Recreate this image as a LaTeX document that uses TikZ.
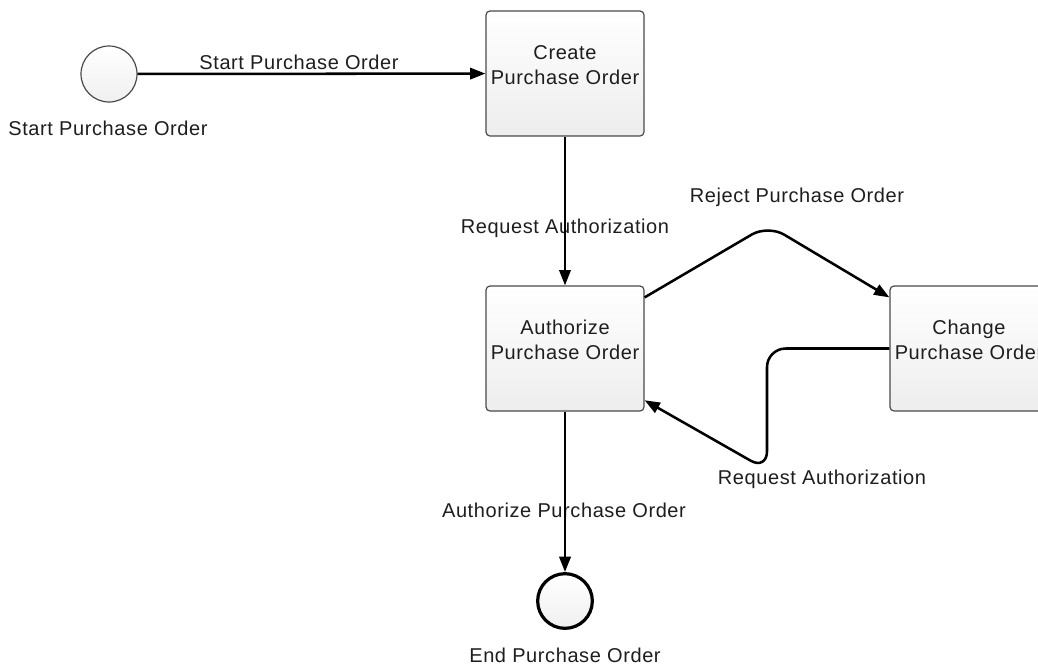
\documentclass[tikz,border=0pt]{standalone}
\usepackage{fontspec}
\setmainfont{Liberation Sans}[LetterSpace=3]
\usetikzlibrary{arrows.meta}
\definecolor{edgegray}{HTML}{4A4A4A}
\definecolor{inktext}{HTML}{1E1E1E}
\tikzset{
  task/.style={draw=edgegray, line width=0.9pt, rounded corners=3pt,
    top color=white, bottom color=black!7,
    minimum width=118.5pt, minimum height=93.75pt, inner sep=0pt},
  tasktext/.style={align=center, text=inktext, inner sep=0pt,
    font=\fontsize{15pt}{18.6pt}\selectfont},
  startev/.style={circle, draw=edgegray, line width=0.9pt,
    top color=white, bottom color=black!6, minimum size=42pt, inner sep=0pt},
  endev/.style={circle, draw=black, line width=2.4pt,
    top color=white, bottom color=black!6, minimum size=41pt, inner sep=0pt},
  lbl/.style={text=inktext, inner sep=0pt, font=\fontsize{15pt}{17pt}\selectfont},
  flow/.style={draw=black, line width=1.9pt,
    -{Triangle[length=11.5pt, width=8.5pt]}, rounded corners=14pt}
}
\begin{document}
\begin{tikzpicture}[x=0.75pt, y=-0.75pt]
  \clip (0,0) rectangle (1038,665);
  \fill[white] (0,0) rectangle (1038,665);

  % events and tasks
  \node[startev] (start) at (109,74) {};
  \node[task] (create) at (565,73.5) {};
  \node[task] (auth) at (565,348.5) {};
  \node[task] (change) at (969,348.5) {};
  \node[endev] (end) at (565,601) {};

  \node[tasktext] at ([yshift=6.3pt]create.center) {Create\\Purchase Order};
  \node[tasktext] at ([yshift=6.3pt]auth.center) {Authorize\\Purchase Order};
  \node[tasktext] at ([yshift=6.3pt]change.center) {Change\\Purchase Order};

  \node[lbl] (startlbl) at (108,128) {Start Purchase Order};
  \node[lbl] (endlbl) at (565,655) {End Purchase Order};

  % flow labels
  \node[lbl] (l1) at (299,62) {Start Purchase Order};
  \node[lbl] (l2) at (565,228) {Request Authorization};
  \node[lbl] (l3) at (797,197) {Reject Purchase Order};
  \node[lbl] (l4) at (822,479) {Request Authorization};
  \node[lbl] (l5) at (564,510) {Authorize Purchase Order};

  % bend points of the loop between the two lower tasks
  \coordinate (rejpeak) at (768,225);
  \coordinate (backtop) at (767,348.5);
  \coordinate (backlow) at (767,470);

  % sequence flows
  \draw[flow] (start) -- (create);
  \draw[flow] (create) -- (auth);
  \draw[flow] (auth) -- (end);
  \draw[flow] ([yshift=-9pt]auth.north east) -- (rejpeak) -- ([yshift=-9pt]change.north west);
  \draw[flow] (change.west) -- (backtop) -- (backlow) -- ([yshift=8.5pt]auth.south east);
\end{tikzpicture}
\end{document}
